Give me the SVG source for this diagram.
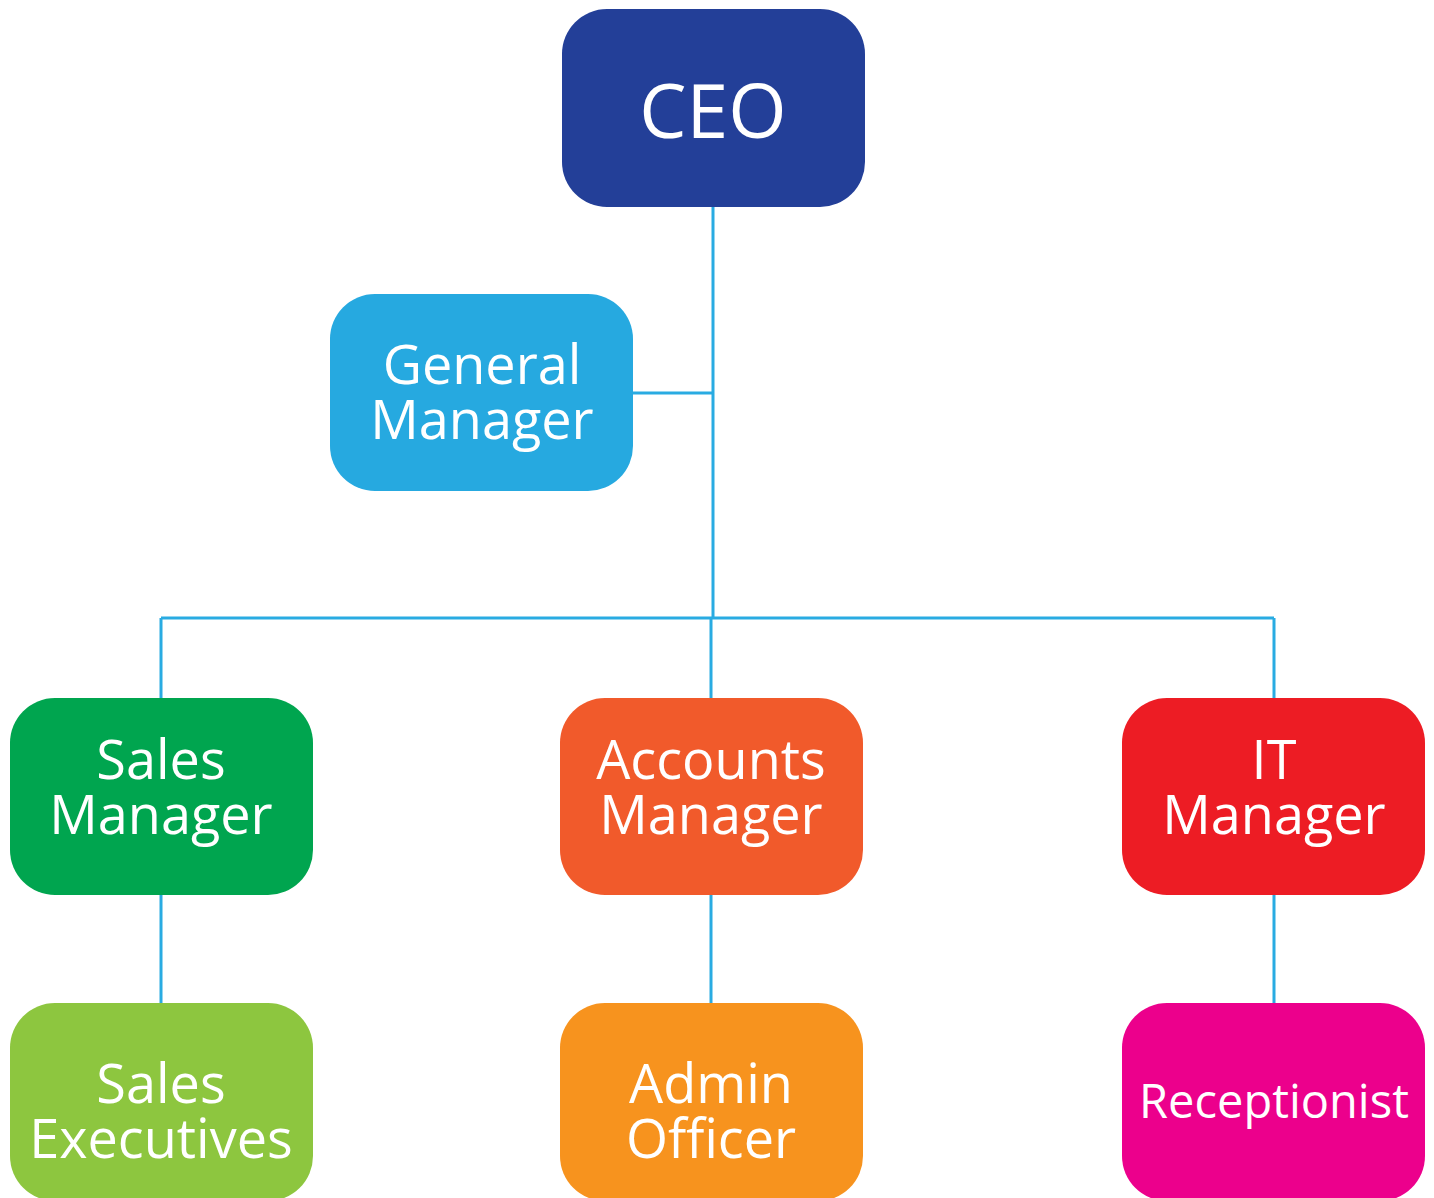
<svg xmlns="http://www.w3.org/2000/svg" width="1434" height="1198" viewBox="0 0 1434 1198">
<style>
.box{stroke:none}
.t{font-family:"Open Sans","Noto Sans","Liberation Sans",sans-serif;fill:#fff;text-anchor:middle;font-size:54px}
.conn{stroke:#29ABE2;stroke-width:3;fill:none}
</style>
<rect width="1434" height="1198" fill="#fff"/>
<g id="connectors">
<path class="conn" d="M713 207V618M633 393H713M161 618H1274M161 618V698M711 618V698M1274 618V698M161 895V1003M711 895V1003M1274 895V1003"/>
</g>
<g id="ceo"><rect class="box" x="562" y="9" width="303" height="198" rx="45" fill="#233F98"/><text class="t" x="713" y="138" style="font-size:75px">CEO</text></g>
<g id="gm"><rect class="box" x="330" y="294" width="303" height="197" rx="45" fill="#26A9E0"/><text class="t" x="482" y="384">General</text><text class="t" x="482" y="439">Manager</text></g>
<g id="sales"><rect class="box" x="10" y="698" width="303" height="197" rx="45" fill="#00A54F"/><text class="t" x="161" y="779">Sales</text><text class="t" x="161" y="834">Manager</text></g>
<g id="accounts"><rect class="box" x="560" y="698" width="303" height="197" rx="45" fill="#F15A2B"/><text class="t" x="711" y="779">Accounts</text><text class="t" x="711" y="834">Manager</text></g>
<g id="it"><rect class="box" x="1122" y="698" width="303" height="197" rx="45" fill="#ED1C24"/><text class="t" x="1274" y="779">IT</text><text class="t" x="1274" y="834">Manager</text></g>
<g id="salesexec"><rect class="box" x="10" y="1003" width="303" height="198" rx="45" fill="#8DC63F"/><text class="t" x="161" y="1103">Sales</text><text class="t" x="161" y="1158">Executives</text></g>
<g id="admin"><rect class="box" x="560" y="1003" width="303" height="198" rx="45" fill="#F7931E"/><text class="t" x="711" y="1103">Admin</text><text class="t" x="711" y="1158">Officer</text></g>
<g id="receptionist"><rect class="box" x="1122" y="1003" width="303" height="198" rx="45" fill="#EC008C"/><text class="t" x="1274" y="1118" style="font-size:47px">Receptionist</text></g>
</svg>
